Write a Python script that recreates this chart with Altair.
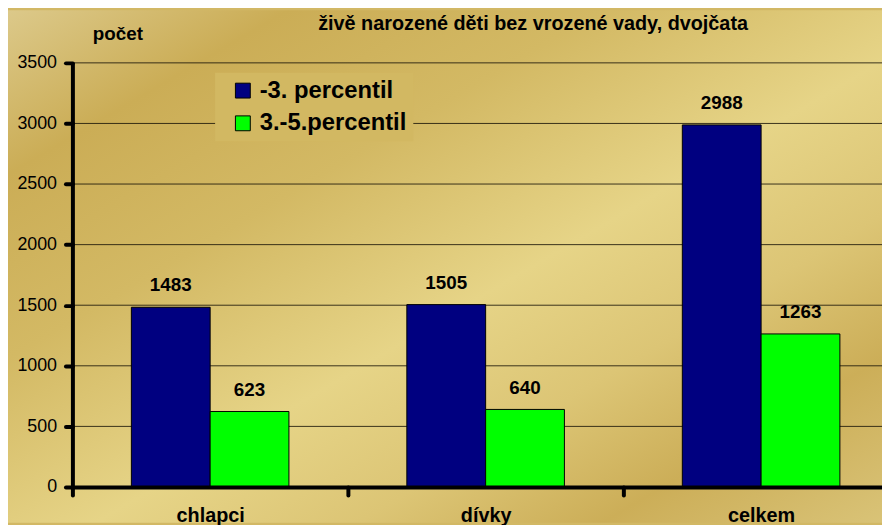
import altair as alt
import pandas as pd

categories = ["chlapci", "dívky", "celkem"]
series_names = ["-3. percentil", "3.-5.percentil"]
p3 = [1483, 1505, 2988]
p35 = [623, 640, 1263]
y_ticks = [0, 500, 1000, 1500, 2000, 2500, 3000, 3500]
grid_values = [500, 1000, 1500, 2000, 2500, 3000, 3500]

rows = []
for c, a, b in zip(categories, p3, p35):
    rows.append({"kat": c, "serie": series_names[0], "pocet": a})
    rows.append({"kat": c, "serie": series_names[1], "pocet": b})
df = pd.DataFrame(rows)
grid_df = pd.DataFrame({"v": grid_values})
bg_df = pd.DataFrame({"a": [0]})

W, H = 817, 428
FULL = 834
FONT = "Liberation Sans"

x_scale = alt.Scale(domain=categories, range=[0, FULL], paddingInner=0.428, paddingOuter=0.214)
y_scale = alt.Scale(domain=[0, 3500], nice=False)

gold = alt.Gradient(
    gradient="linear", x1=0, y1=0, x2=1, y2=1,
    stops=[
        alt.GradientStop(color="#dcc98a", offset=0.0),
        alt.GradientStop(color="#cbad56", offset=0.16),
        alt.GradientStop(color="#d3b964", offset=0.34),
        alt.GradientStop(color="#e6d487", offset=0.55),
        alt.GradientStop(color="#dcc575", offset=0.70),
        alt.GradientStop(color="#ccae58", offset=0.84),
        alt.GradientStop(color="#d9c377", offset=1.0),
    ],
)

background = alt.Chart(bg_df).mark_rect(fill=gold).encode(
    x=alt.value(-65), x2=alt.value(W), y=alt.value(-53), y2=alt.value(H + 36)
)

grid = alt.Chart(grid_df).mark_rule(color="#1a1608", strokeWidth=1, opacity=0.85).encode(
    y=alt.Y("v:Q", scale=y_scale)
)

y_axis = alt.Axis(
    values=y_ticks, format="d", grid=False, domainWidth=4, domainColor="black",
    tickWidth=4, tickSize=7, tickColor="black", tickCap="round",
    labelFontSize=18, labelFont=FONT, labelColor="black", labelPadding=9,
    title="počet", titleAngle=0, titleAlign="left", titleX=20, titleY=-24,
    titleBaseline="alphabetic", titleFontSize=19, titleFontWeight="bold",
    titleFont=FONT, titleColor="black", zindex=1,
)
x_axis = alt.Axis(
    title=None, bandPosition=0, tickOffset=-59.5, labelOffset=59.5,
    tickSize=8, tickWidth=4, tickColor="black",
    tickCap="round", domainWidth=4, domainColor="black", labelAngle=0,
    labelFontSize=20, labelFontWeight="bold", labelFont=FONT, labelColor="black",
    labelPadding=11, zindex=1,
)

legend = alt.Legend(
    title=None, orient="none", legendX=144, legendY=10, padding=6, symbolOffset=10,
    fillColor="#d2b862", symbolType="square", symbolSize=225,
    symbolStrokeColor="black", symbolStrokeWidth=1, labelFontSize=24,
    labelFontWeight="bold", labelFont=FONT, labelColor="black", labelOffset=5,
    rowPadding=9, labelLimit=400, zindex=1,
)

bars = alt.Chart(df).mark_bar(stroke="black", strokeWidth=1).encode(
    x=alt.X("kat:N", scale=x_scale, axis=x_axis, sort=categories),
    xOffset=alt.XOffset("serie:N", sort=series_names),
    y=alt.Y("pocet:Q", scale=y_scale, axis=y_axis),
    color=alt.Color("serie:N", scale=alt.Scale(domain=series_names, range=["#000080", "#00ff00"]), legend=legend),
)

labels = alt.Chart(df).mark_text(
    dy=-22, fontSize=19, fontWeight="bold", font=FONT, color="black", baseline="middle"
).encode(
    x=alt.X("kat:N", scale=x_scale, sort=categories),
    xOffset=alt.XOffset("serie:N", sort=series_names),
    y=alt.Y("pocet:Q", scale=y_scale),
    text=alt.Text("pocet:Q"),
)

chart = alt.layer(background, grid, bars, labels).properties(
    width=W, height=H,
    autosize=alt.AutoSizeParams(type="none"),
    padding={"left": 65, "top": 53, "right": 0, "bottom": 36},
    background="#d2b865",
    title=alt.TitleParams(
        text="živě narozené děti bez vrozené vady, dvojčata", anchor="start",
        frame="group", dx=248, offset=-40, baseline="alphabetic",
        fontSize=20, fontWeight="bold", font=FONT, color="black",
    ),
).configure_view(stroke="transparent")

chart.save("out.html", embed_options={"renderer": "svg", "actions": False})
